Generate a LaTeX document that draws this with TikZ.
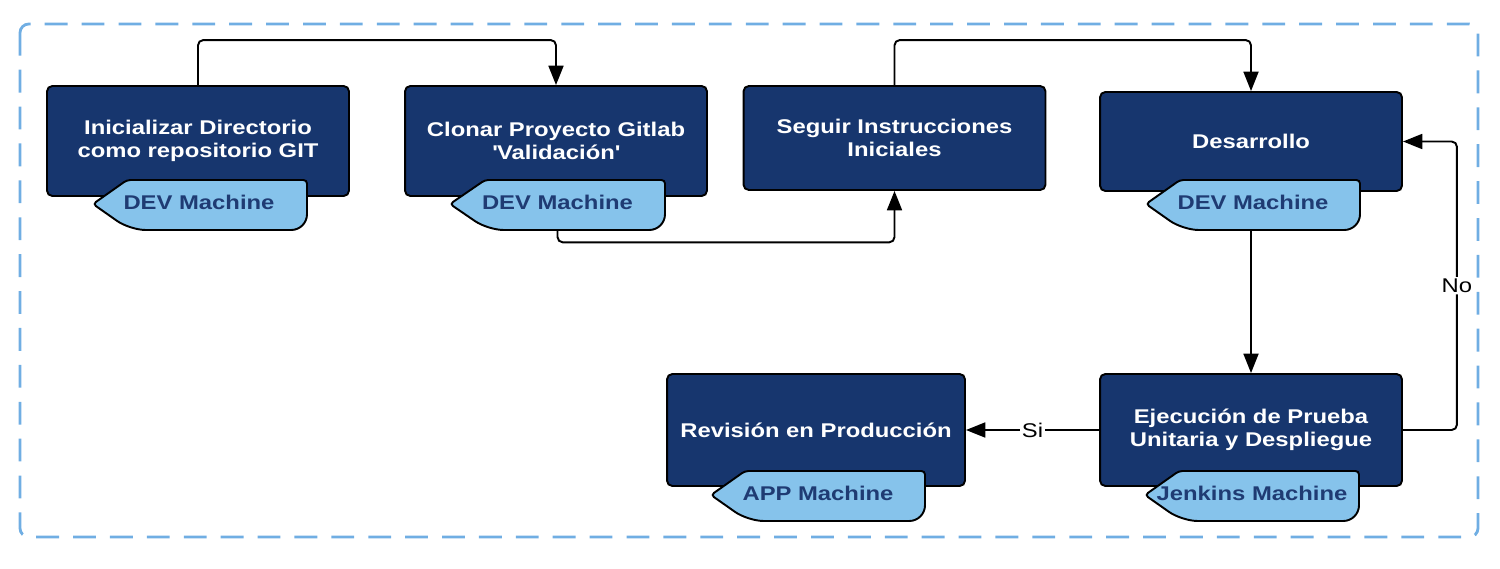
\documentclass[tikz,border=0pt]{standalone}
\usepackage{fontspec}
\setmainfont{Liberation Sans}[FakeStretch=1.2]
\usepackage{xcolor}
\usepackage{tikz}
\usetikzlibrary{arrows.meta}

\definecolor{boxblue}{HTML}{17366E}
\definecolor{tagblue}{HTML}{86C3EB}
\definecolor{tagtext}{HTML}{1F3B73}
\definecolor{frameblue}{HTML}{70AEE3}

\begin{document}
\begin{tikzpicture}
  [
    x=0.02cm, y=-0.02cm,
    frame/.style={
       draw=frameblue,
       line width=1.6pt,
       dash pattern=on 13pt off 8pt,
       rounded corners=5pt
    },
    task/.style={
       draw=black,
       fill=boxblue,
       line width=1.1pt,
       rounded corners=3pt,
       minimum width=6.04cm,
       minimum height=2.2cm,
       align=center,
       text=white,
       font=\fontsize{11.3}{13}\selectfont\bfseries
    },
    tag/.style={
       draw=black,
       fill=tagblue,
       line width=1.1pt,
       rounded corners=2pt
    },
    machine/.style={
       minimum width=4.28cm,
       minimum height=1cm,
       inner sep=0pt,
       text depth=3.4pt,
       text=tagtext,
       font=\fontsize{11.3}{13}\selectfont\bfseries
    },
    link/.style={
       draw=black,
       line width=1.1pt,
       rounded corners=3pt,
       -{Triangle[length=11pt,width=8.5pt]}
    },
    lbl/.style={
       fill=white,
       inner sep=1pt,
       text=black,
       font=\fontsize{11.3}{13}\selectfont
    }
  ]
  \useasboundingbox (0,0) rectangle (1500,568);
  \draw [frame] (20,24) rectangle (1478,537);

  \node (init)  at ( 198,141)   [task]                      {Inicializar Directorio\\como repositorio GIT};
  \node (clone) at ( 556,141)   [task]                      {Clonar Proyecto Gitlab\\\textquotesingle Validación\textquotesingle};
  \node (instr) at ( 894.5,138) [task, minimum height=2.08cm] {Seguir Instrucciones\\Iniciales};
  \node (dev)   at (1251,141.5) [task, minimum height=1.98cm] {Desarrollo};
  \node (test)  at (1251,430)   [task, minimum height=2.24cm] {Ejecución de Prueba\\Unitaria y Despliegue};
  \node (prod)  at ( 816,430)   [task, minimum height=2.24cm, minimum width=5.96cm] {Revisión en Producción};

  \draw [tag] (  93,204) -- ( 127,180) -- ( 307,180) [rounded corners=9pt] -- ( 307,230) -- ( 130,230) [rounded corners=2pt] -- cycle;
  \draw [tag] ( 450,204) -- ( 485,180) -- ( 665,180) [rounded corners=9pt] -- ( 665,230) -- ( 488,230) [rounded corners=2pt] -- cycle;
  \draw [tag] (1146,204) -- (1180,180) -- (1360,180) [rounded corners=9pt] -- (1360,230) -- (1183,230) [rounded corners=2pt] -- cycle;
  \draw [tag] (1145,495) -- (1179,471) -- (1359,471) [rounded corners=9pt] -- (1359,521) -- (1182,521) [rounded corners=2pt] -- cycle;
  \draw [tag] ( 711,495) -- ( 745,471) -- ( 925,471) [rounded corners=9pt] -- ( 925,521) -- ( 748,521) [rounded corners=2pt] -- cycle;

  \node (initTag)  at ( 199,205)   [machine] {DEV Machine};
  \node (cloneTag) at ( 557.5,205) [machine] {DEV Machine};
  \node (devTag)   at (1253,205)   [machine] {DEV Machine};
  \node (testTag)  at (1252,496)   [machine] {Jenkins Machine};
  \node (prodTag)  at ( 818,496)   [machine] {APP Machine};

  \draw [link] (init.north) -- ++(0,-45) -| (clone.north);
  \draw [link] (cloneTag.south) -- ++(0,12) -| (instr.south);
  \draw [link] (instr.north) -- ++(0,-45) -| (dev.north);
  \draw [link] (test.north |- devTag.south) -- (test.north);
  \draw [link] (test.east) -- ++(54,0) |- node [lbl, pos=0.25] {No} (dev.east);
  \draw [link] (test.west) -- node [lbl] {Si} (prod.east);
\end{tikzpicture}
\end{document}
